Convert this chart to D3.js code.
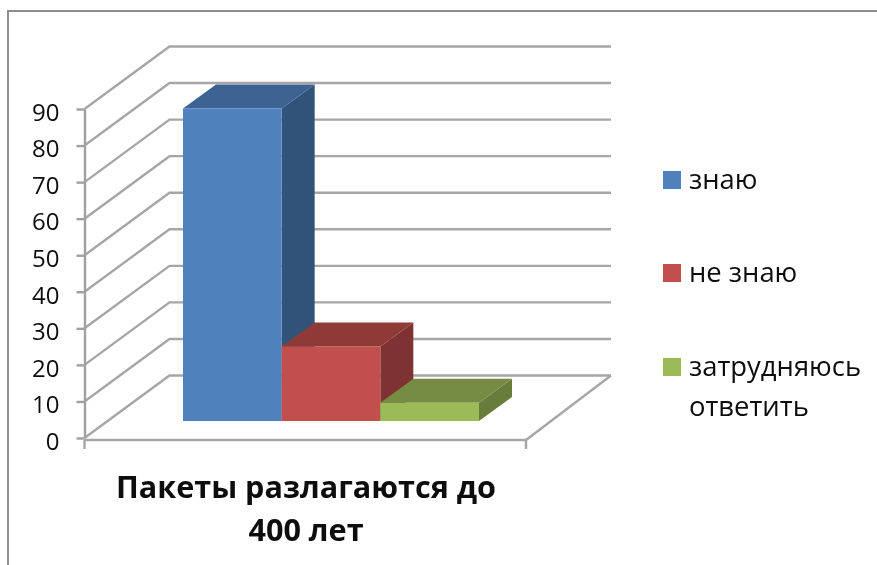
<html>

<head>
    <meta charset="utf-8">
    <style>
        body {
            margin: 0;
            background: white;
        }

        text {
            font-family: "Open Sans", sans-serif;
            fill: #111;
        }

        .wall line,
        .wall path {
            stroke: #a6a6a6;
            stroke-width: 2.4;
            fill: none;
        }

        .axis path,
        .axis line {
            stroke: #a0a0a0;
            stroke-width: 2.4;
        }
    </style>
</head>

<body>
    <svg id="container" height="565" width="877">
        <defs>
            <filter id="soft" x="-5%" y="-5%" width="110%" height="110%">
                <feGaussianBlur stdDeviation="0.55"></feGaussianBlur>
            </filter>
        </defs>
        <g id="body" filter="url(#soft)"></g>
    </svg>
</body>
<script src="https://cdn.jsdelivr.net/npm/d3@7"></script>
<script>
    const categories = ["знаю", "не знаю", "затрудняюсь ответить"]
    const values = [85.5, 20.4, 5]
    const yTicks = [0, 10, 20, 30, 40, 50, 60, 70, 80, 90]
    const titleLines = ["Пакеты разлагаются до", "400 лет"]
    const legendLines = [["знаю"], ["не знаю"], ["затрудняюсь", "ответить"]]
    const frontColors = ["#4f81bd", "#c0504d", "#9bbb59"]
    const topColors = ["#3c6392", "#8e3b39", "#748c42"]
    const sideColors = ["#325379", "#7e3331", "#677c3b"]

    let body = d3.select("#body")

    // y position of a value on the front edge of the side wall
    let y = d3.scaleLinear().domain([0, 90]).range([438, 109])
    let floorX = d3.scaleLinear().domain([0, 1]).range([84.5, 526])
    let x = d3.scaleBand().domain(categories).range([183, 479])

    // oblique shift from the front of the box to the back wall
    let wallDx = 85
    let wallDy = -62.5
    // shift of the bars away from the front edge and their own depth
    let barLift = 17
    let barDx = 33
    let barDy = -24

    function points(list) {
        return list.map(p => p.join(",")).join(" ")
    }

    // frame of the chart area, open on the right and bottom
    body.append("path")
        .attr("d", "M8,570V11H885")
        .attr("fill", "none")
        .attr("stroke", "#8e8e8e")
        .attr("stroke-width", 2)

    let wall = body.append("g").attr("class", "wall")

    wall.selectAll("path.grid")
        .data(yTicks)
        .enter()
        .append("path")
        .attr("class", "grid")
        .attr("d", d => {
            let x0 = floorX(0)
            let x1 = x0 + wallDx
            let x2 = floorX(1) + wallDx
            return "M" + x0 + "," + y(d) + "L" + x1 + "," + (y(d) + wallDy) + "H" + x2
        })

    // floor edges
    wall.append("path")
        .attr("d", "M" + (floorX(1) + wallDx) + "," + (y(0) + wallDy) + "L" + floorX(1) + "," + (y(0) + 2))
    wall.append("line")
        .attr("x1", floorX(0)).attr("x2", floorX(1))
        .attr("y1", y(0) + 2).attr("y2", y(0) + 2)
    wall.selectAll("line.drop")
        .data([0, 1])
        .enter()
        .append("line")
        .attr("class", "drop")
        .attr("x1", d => floorX(d)).attr("x2", d => floorX(d))
        .attr("y1", y(0) + 2).attr("y2", y(0) + 11)

    // value axis
    let axis = body.append("g")
        .attr("class", "axis")
        .attr("transform", "translate(" + floorX(0) + ",0)")
        .call(d3.axisLeft(y).tickValues(yTicks).tickSize(8).tickPadding(17).tickSizeOuter(0))

    axis.selectAll("text")
        .attr("font-size", 24)
        .attr("dy", "0.47em")
        .style("font-family", '"Open Sans", sans-serif')
        .style("fill", "#111")

    // bars
    let bars = body.append("g")
        .selectAll("g")
        .data(categories)
        .enter()
        .append("g")

    function barBox(d, i) {
        let left = x(d)
        let right = left + x.bandwidth()
        let base = y(0) - barLift
        let top = base - (y(0) - y(values[i]))
        return { left, right, base, top }
    }

    bars.append("polygon")
        .attr("fill", (d, i) => sideColors[i])
        .attr("points", (d, i) => {
            let b = barBox(d, i)
            return points([[b.right, b.base], [b.right + barDx, b.base + barDy], [b.right + barDx, b.top + barDy], [b.right, b.top]])
        })

    bars.append("polygon")
        .attr("fill", (d, i) => topColors[i])
        .attr("points", (d, i) => {
            let b = barBox(d, i)
            return points([[b.left, b.top], [b.left + barDx, b.top + barDy], [b.right + barDx, b.top + barDy], [b.right, b.top]])
        })

    bars.append("rect")
        .attr("fill", (d, i) => frontColors[i])
        .attr("x", d => x(d))
        .attr("width", x.bandwidth())
        .attr("y", (d, i) => barBox(d, i).top)
        .attr("height", (d, i) => barBox(d, i).base - barBox(d, i).top)

    // legend
    let legendTop = [171, 264, 358]
    let legend = body.append("g")
        .selectAll("g")
        .data(legendLines)
        .enter()
        .append("g")
        .attr("transform", (d, i) => "translate(663," + legendTop[i] + ")")

    legend.append("rect")
        .attr("width", 18)
        .attr("height", 18)
        .attr("fill", (d, i) => frontColors[i])

    legend.selectAll("text")
        .data(d => d)
        .enter()
        .append("text")
        .attr("x", 26)
        .attr("y", (d, i) => 18 + i * 40)
        .attr("font-size", 27.4)
        .text(d => d)

    // title
    body.append("g")
        .selectAll("text")
        .data(titleLines)
        .enter()
        .append("text")
        .attr("x", 306)
        .attr("y", (d, i) => 498 + i * 43)
        .attr("text-anchor", "middle")
        .attr("font-size", 30.6)
        .attr("font-weight", "bold")
        .text(d => d)
</script>

</html>
